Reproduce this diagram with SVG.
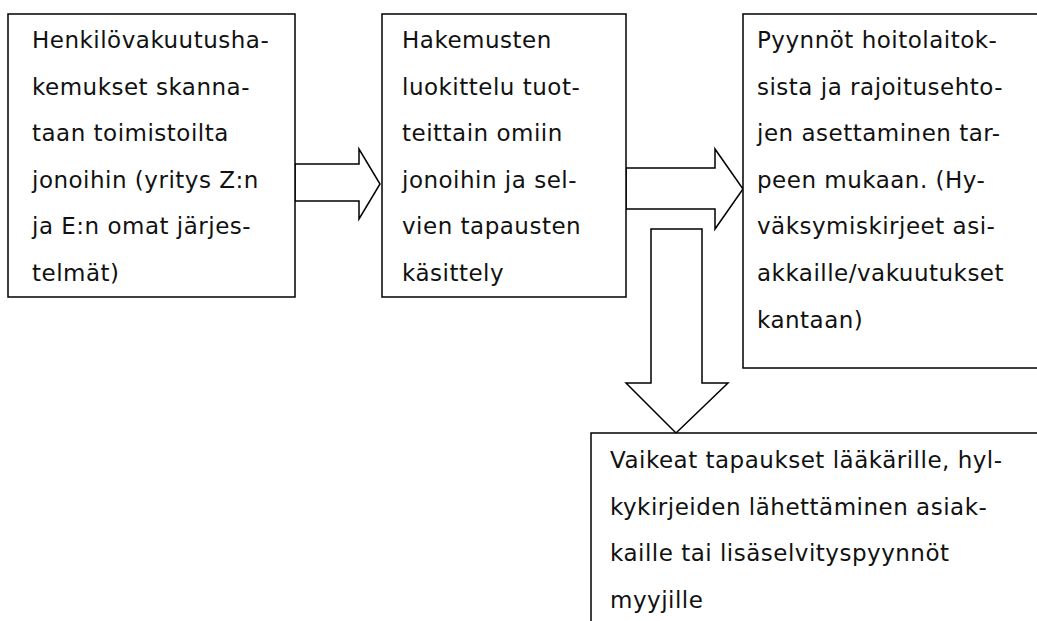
<svg xmlns="http://www.w3.org/2000/svg" width="1037" height="621" viewBox="0 0 1037 621">
  <style>
    .box { fill: #ffffff; stroke: #000000; stroke-width: 1.5; }
    .arrow { fill: #ffffff; stroke: #000000; stroke-width: 1.5; stroke-linejoin: miter; }
    .label { font-family: "DejaVu Sans", Verdana, sans-serif; font-size: 23px; fill: #111111; letter-spacing: 0.5px; }
  </style>
  <rect width="1037" height="621" fill="#ffffff"/>

  <g id="connectors">
    <polygon class="arrow" points="295,164 359,164 359,149 380,184 359,219 359,201 295,201"/>
    <polygon class="arrow" points="626,168 715,168 715,149 743,189 715,229 715,209 626,209"/>
    <polygon class="arrow" points="651,229 702,229 702,383 728,383 676,433 626,383 651,383"/>
  </g>

  <g id="node-scanning">
    <rect class="box" x="8" y="14" width="287" height="283"/>
    <text class="label">
      <tspan x="32" y="48">Henkilövakuutusha-</tspan>
      <tspan x="32" y="94.6">kemukset skanna-</tspan>
      <tspan x="32" y="141.2">taan toimistoilta</tspan>
      <tspan x="32" y="187.8">jonoihin (yritys Z:n</tspan>
      <tspan x="32" y="234.4">ja E:n omat järjes-</tspan>
      <tspan x="32" y="281">telmät)</tspan>
    </text>
  </g>

  <g id="node-classification">
    <rect class="box" x="382" y="14" width="244" height="283"/>
    <text class="label">
      <tspan x="402" y="48">Hakemusten</tspan>
      <tspan x="402" y="94.6">luokittelu tuot-</tspan>
      <tspan x="402" y="141.2">teittain omiin</tspan>
      <tspan x="402" y="187.8">jonoihin ja sel-</tspan>
      <tspan x="402" y="234.4">vien tapausten</tspan>
      <tspan x="402" y="281">käsittely</tspan>
    </text>
  </g>

  <g id="node-requests">
    <rect class="box" x="743" y="14" width="300" height="354"/>
    <text class="label">
      <tspan x="757" y="48">Pyynnöt hoitolaitok-</tspan>
      <tspan x="757" y="94.6">sista ja rajoitusehto-</tspan>
      <tspan x="757" y="141.2">jen asettaminen tar-</tspan>
      <tspan x="757" y="187.8">peen mukaan. (Hy-</tspan>
      <tspan x="757" y="234.4">väksymiskirjeet asi-</tspan>
      <tspan x="757" y="281">akkaille/vakuutukset</tspan>
      <tspan x="757" y="327.6">kantaan)</tspan>
    </text>
  </g>

  <g id="node-difficult">
    <rect class="box" x="591" y="433" width="452" height="200"/>
    <text class="label">
      <tspan x="610" y="468">Vaikeat tapaukset lääkärille, hyl-</tspan>
      <tspan x="610" y="514.6">kykirjeiden lähettäminen asiak-</tspan>
      <tspan x="610" y="561.2">kaille tai lisäselvityspyynnöt</tspan>
      <tspan x="610" y="607.8">myyjille</tspan>
    </text>
  </g>
</svg>
